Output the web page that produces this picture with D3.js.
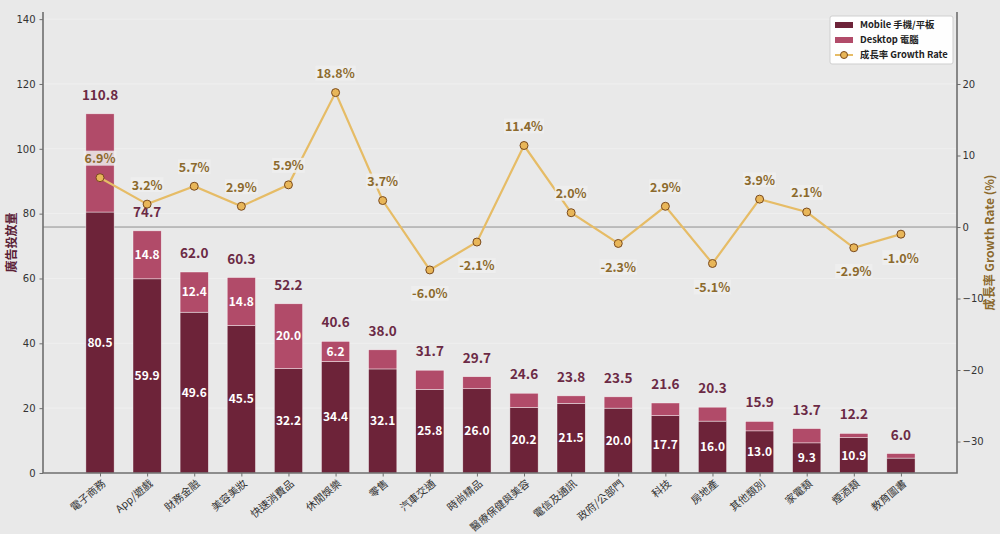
<!DOCTYPE html>
<html>
<head>
<meta charset="utf-8">
<script src="https://cdn.jsdelivr.net/npm/d3@7"></script>
<style>
  body { margin: 0; background: #e9e9e9; }
  svg { display: block; }
</style>
</head>
<body>
<svg id="chart" width="1000" height="534"></svg>
<script>
// category data
const categories = ['電子商務', 'App/遊戲', '財務金融', '美容美妝', '快速消費品', '休閒娛樂', '零售', '汽車交通',
  '時尚精品', '醫療保健與美容', '電信及通訊', '政府/公部門', '科技', '房地產', '其他類別', '家電類', '煙酒類', '教育圖書'];
const mobile = [80.5, 59.9, 49.6, 45.5, 32.2, 34.4, 32.1, 25.8, 26.0, 20.2, 21.5, 20.0, 17.7, 16.0, 13.0, 9.3, 10.9, 4.6];
const desktop = [30.3, 14.8, 12.4, 14.8, 20.0, 6.2, 5.9, 5.9, 3.7, 4.4, 2.3, 3.5, 3.9, 4.3, 2.9, 4.4, 1.3, 1.4];
const growth = [6.9, 3.2, 5.7, 2.9, 5.9, 18.8, 3.7, -6.0, -2.1, 11.4, 2.0, -2.3, 2.9, -5.1, 3.9, 2.1, -2.9, -1.0];
const leftTicks = [0, 20, 40, 60, 80, 100, 120, 140];
const rightTicks = [-30, -20, -10, 0, 10, 20];

const data = categories.map((c, i) => ({ i, cat: c, m: mobile[i], d: desktop[i], g: growth[i], total: +(mobile[i] + desktop[i]).toFixed(1) }));

const C = { mobile: '#6d2339', desktop: '#b14b69', line: '#e6bc66', dot: '#e8b659', dotEdge: '#7a4a1e',
  total: '#6b2a45', gtext: '#8c6a2d', axis: '#6f6f6f', tick: '#333' };
const cjk = '"Noto Sans CJK TC", "Noto Sans", sans-serif';
const dv = '"DejaVu Sans", sans-serif';

const svg = d3.select('#chart');
const L = 43, R = 957, T = 12, B = 473;

const x = d3.scaleLinear().domain([-1.21, 18.19]).range([L, R]);
const step = x(1) - x(0);
const bw = step * 0.6;
const y = d3.scaleLinear().domain([0, 142.2]).range([B, T]);
const y2 = d3.scaleLinear().domain([-34.4, 30.07]).range([B, T]);

// where the growth label of a category sits
const gLabelY = d => y2(d.g) + (d.g >= 0 ? -19 : 24);

// faint grid
svg.append('g').selectAll('line').data(leftTicks.slice(1)).join('line')
  .attr('x1', L).attr('x2', R).attr('y1', d => y(d)).attr('y2', d => y(d))
  .attr('stroke', '#f1f1f1').attr('stroke-width', 0.8);

// zero line of growth
svg.append('line').attr('x1', L).attr('x2', R).attr('y1', y2(0)).attr('y2', y2(0))
  .attr('stroke', '#8f8f8f').attr('stroke-width', 1);

// stacked bars
const bars = svg.append('g');
bars.selectAll('.mob').data(data).join('rect')
  .attr('x', d => x(d.i) - bw / 2).attr('width', bw)
  .attr('y', d => y(d.m)).attr('height', d => y(0) - y(d.m))
  .attr('fill', C.mobile).attr('stroke', '#fff').attr('stroke-width', 0.6).attr('stroke-opacity', 0.7);
bars.selectAll('.desk').data(data).join('rect')
  .attr('x', d => x(d.i) - bw / 2).attr('width', bw)
  .attr('y', d => y(d.m + d.d)).attr('height', d => y(d.m) - y(d.m + d.d))
  .attr('fill', C.desktop).attr('stroke', '#fff').attr('stroke-width', 0.6).attr('stroke-opacity', 0.7);

// value labels inside segments (desktop one hidden where the growth label covers it)
svg.append('g').selectAll('text').data(data.filter(d => d.m >= 5)).join('text')
  .attr('x', d => x(d.i)).attr('y', d => y(d.m / 2)).attr('dy', '0.35em')
  .attr('text-anchor', 'middle').attr('fill', '#fff').attr('font-family', cjk)
  .attr('font-weight', 'bold').attr('font-size', 12).text(d => d.m.toFixed(1));
svg.append('g').selectAll('text')
  .data(data.filter(d => d.d >= 6 && Math.abs(y(d.m + d.d / 2) - gLabelY(d)) > 16)).join('text')
  .attr('x', d => x(d.i)).attr('y', d => y(d.m + d.d / 2)).attr('dy', '0.35em')
  .attr('text-anchor', 'middle').attr('fill', '#fff').attr('font-family', cjk)
  .attr('font-weight', 'bold').attr('font-size', 12).text(d => d.d.toFixed(1));

// totals above bars
svg.append('g').selectAll('text').data(data).join('text')
  .attr('x', d => x(d.i)).attr('y', d => y(d.total) - 14)
  .attr('text-anchor', 'middle').attr('fill', C.total).attr('font-family', cjk)
  .attr('font-weight', 'bold').attr('font-size', 13.5).text(d => d.total.toFixed(1));

// growth line
svg.append('path').datum(data)
  .attr('d', d3.line().x(d => x(d.i)).y(d => y2(d.g)))
  .attr('fill', 'none').attr('stroke', C.line).attr('stroke-width', 2.2);
svg.append('g').selectAll('circle').data(data).join('circle')
  .attr('cx', d => x(d.i)).attr('cy', d => y2(d.g)).attr('r', 4)
  .attr('fill', C.dot).attr('stroke', C.dotEdge).attr('stroke-width', 1);

// growth labels with light box
const gl = svg.append('g').selectAll('g').data(data).join('g')
  .attr('transform', d => `translate(${x(d.i)},${gLabelY(d)})`);
gl.append('rect').attr('x', -15).attr('y', -8).attr('width', 30).attr('height', 15)
  .attr('fill', '#eeeeee').attr('opacity', 0.85);
gl.append('text').attr('dy', '0.35em').attr('text-anchor', 'middle')
  .attr('fill', C.gtext).attr('font-family', cjk).attr('font-weight', 'bold').attr('font-size', 12.5)
  .text(d => d.g.toFixed(1) + '%');
gl.each(function () {
  const t = d3.select(this).select('text').node().getBBox();
  d3.select(this).select('rect').attr('x', t.x - 1).attr('width', t.width + 2);
});

// axes
const axL = svg.append('g').attr('transform', `translate(${L},0)`)
  .call(d3.axisLeft(y).tickValues(leftTicks).tickSize(3.5).tickPadding(4));
axL.select('.domain').remove();
axL.selectAll('line').attr('stroke', C.axis);
axL.selectAll('text').attr('font-family', dv).attr('font-size', 10).attr('fill', C.tick);

const axR = svg.append('g').attr('transform', `translate(${R},0)`)
  .call(d3.axisRight(y2).tickValues(rightTicks).tickSize(3.5).tickPadding(2));
axR.select('.domain').remove();
axR.selectAll('line').attr('stroke', C.axis);
axR.selectAll('text').attr('font-family', dv).attr('font-size', 10).attr('fill', C.tick);

const axB = svg.append('g').attr('transform', `translate(0,${B})`)
  .call(d3.axisBottom(x).tickValues(data.map(d => d.i)).tickSize(3.5).tickFormat(''));
axB.select('.domain').remove();
axB.selectAll('line').attr('stroke', C.axis);

svg.append('g').selectAll('text').data(data).join('text')
  .attr('transform', d => `translate(${x(d.i) + 4},${B + 9}) rotate(-40)`)
  .attr('text-anchor', 'end').attr('dy', '0.35em')
  .attr('font-family', cjk).attr('font-size', 10.5).attr('fill', C.tick).text(d => d.cat);

// spines
svg.append('path').attr('d', `M${L},${T}V${B}H${R}V${T}`)
  .attr('fill', 'none').attr('stroke', C.axis).attr('stroke-width', 1.6);

// axis titles
svg.append('text').attr('transform', `translate(16,${(T + B) / 2}) rotate(-90)`)
  .attr('text-anchor', 'middle').attr('fill', '#5a2035').attr('font-family', cjk)
  .attr('font-weight', 'bold').attr('font-size', 12).text('廣告投放量');
svg.append('text').attr('transform', `translate(994,${(T + B) / 2}) rotate(-90)`)
  .attr('text-anchor', 'middle').attr('fill', C.gtext).attr('font-family', cjk)
  .attr('font-weight', 'bold').attr('font-size', 12).text('成長率 Growth Rate (%)');

// legend
const lg = svg.append('g').attr('transform', 'translate(830,16)');
lg.append('rect').attr('width', 123).attr('height', 48).attr('fill', '#fff').attr('fill-opacity', 0.92)
  .attr('stroke', '#cfcfcf').attr('rx', 2);
const items = [
  { label: 'Mobile 手機/平板', type: 'bar', color: C.mobile },
  { label: 'Desktop 電腦', type: 'bar', color: C.desktop },
  { label: '成長率 Growth Rate', type: 'line' }
];
items.forEach((it, k) => {
  const cy = 9 + k * 15;
  if (it.type === 'bar') {
    lg.append('rect').attr('x', 5).attr('y', cy - 3).attr('width', 18).attr('height', 6).attr('fill', it.color);
  } else {
    lg.append('line').attr('x1', 5).attr('x2', 23).attr('y1', cy).attr('y2', cy)
      .attr('stroke', C.line).attr('stroke-width', 2);
    lg.append('circle').attr('cx', 14).attr('cy', cy).attr('r', 3.5)
      .attr('fill', C.dot).attr('stroke', C.dotEdge).attr('stroke-width', 1);
  }
  lg.append('text').attr('x', 30).attr('y', cy).attr('dy', '0.35em')
    .attr('font-family', cjk).attr('font-weight', 'bold').attr('font-size', 9.4).attr('fill', '#222')
    .text(it.label);
});
</script>
</body>
</html>
